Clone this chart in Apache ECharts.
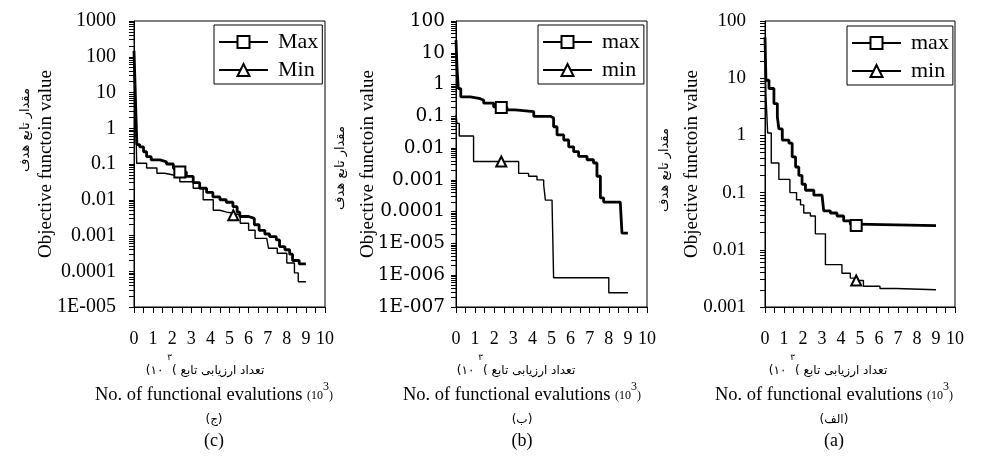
<!DOCTYPE html>
<html>
<head>
<meta charset="utf-8">
<script src="https://cdn.jsdelivr.net/npm/echarts@6/dist/echarts.min.js"></script>
<style>
  html, body { margin: 0; padding: 0; background: #fff; }
  #chart { width: 994px; height: 472px; }
</style>
</head>
<body>
<div id="chart"></div>
<script>
// x axis: number of function evaluations (thousands)
const xTicks = [0, 1, 2, 3, 4, 5, 6, 7, 8, 9, 10];

// y axis decades and their printed labels, one set per panel
const yTicksC = [1e-5, 1e-4, 1e-3, 1e-2, 0.1, 1, 10, 100, 1000];
const yLabelsC = ['1E-005', '0.0001', '0.001', '0.01', '0.1', '1', '10', '100', '1000'];
const yTicksB = [1e-7, 1e-6, 1e-5, 1e-4, 1e-3, 1e-2, 0.1, 1, 10, 100];
const yLabelsB = ['1E-007', '1E-006', '1E-005', '0.0001', '0.001', '0.01', '0.1', '1', '10', '100'];
const yTicksA = [1e-3, 1e-2, 0.1, 1, 10, 100];
const yLabelsA = ['0.001', '0.01', '0.1', '1', '10', '100'];

// panel (c): best-so-far objective value, [evaluations (10^3), value]
const maxC = [[0, 146], [0.05, 20], [0.1, 2.5], [0.15, 0.35], [0.3, 0.3], [0.5, 0.22], [0.66, 0.16],
  [0.9, 0.13], [1.36, 0.115], [1.7, 0.1], [2.06, 0.076], [2.4, 0.06], [2.74, 0.045], [3.1, 0.03],
  [3.44, 0.021], [3.8, 0.016], [4.13, 0.012], [4.5, 0.01], [4.83, 0.0085], [5.18, 0.0064],
  [5.4, 0.0045], [5.54, 0.0034], [6.0, 0.003], [6.3, 0.002], [6.55, 0.0014], [6.85, 0.0011],
  [7.1, 0.00093], [7.45, 0.00075], [7.62, 0.00049], [7.9, 0.0004], [8.15, 0.0003], [8.3, 0.0002],
  [8.65, 0.00016], [9.0, 0.00016]];
const maxCMark = 11;
const minC = [[0, 130], [0.05, 15], [0.1, 1.5], [0.14, 0.105], [0.66, 0.077], [1.2, 0.055], [1.6, 0.05],
  [2.0, 0.044], [2.4, 0.032], [3.1, 0.021], [3.62, 0.01], [4.15, 0.0051], [4.5, 0.0045], [4.85, 0.0042],
  [5.2, 0.0037], [5.56, 0.0022], [6.0, 0.0014], [6.34, 0.00083], [6.95, 0.00075], [7.04, 0.00044],
  [7.5, 0.00032], [8.0, 0.00017], [8.4, 0.00009], [8.6, 0.000051], [9.0, 0.000051]];
const minCMark = 14;

// panel (b)
const maxB = [[0, 25], [0.05, 3.6], [0.12, 0.75], [0.25, 0.41], [0.75, 0.36], [1.27, 0.32], [1.45, 0.26],
  [1.97, 0.2], [2.37, 0.19], [2.67, 0.16], [3.1, 0.14], [4.07, 0.1], [4.94, 0.088], [5.11, 0.047],
  [5.29, 0.026], [5.64, 0.018], [5.9, 0.011], [6.16, 0.0077], [6.42, 0.0055], [6.86, 0.0043],
  [7.2, 0.0034], [7.38, 0.0013], [7.56, 0.00027], [7.73, 0.0002], [8.6, 0.00018], [8.69, 0.000021],
  [9.0, 0.000021]];
const maxBMark = 8;
const minB = [[0, 0.11], [0.05, 0.06], [0.17, 0.024], [0.92, 0.0038], [2.37, 0.0038], [3.28, 0.0016],
  [3.8, 0.0013], [4.24, 0.001], [4.59, 0.0007], [4.68, 0.00023], [5.03, 0.00018], [5.11, 8.3e-7],
  [8.0, 2.8e-7], [9.0, 2.8e-7]];
const minBMark = 4;

// panel (a)
const maxA = [[0, 52], [0.05, 9.2], [0.21, 6.6], [0.47, 3.6], [0.65, 2.1], [0.73, 1.3], [0.91, 0.83],
  [1.26, 0.73], [1.43, 0.42], [1.61, 0.28], [1.78, 0.2], [1.95, 0.14], [2.13, 0.11], [2.57, 0.09],
  [3.0, 0.085], [3.09, 0.048], [3.44, 0.044], [3.79, 0.039], [4.14, 0.032], [4.49, 0.028],
  [4.8, 0.0265], [9.0, 0.026]];
const maxAMark = 20;
const minA = [[0, 40], [0.05, 5], [0.14, 1.1], [0.33, 0.33], [0.73, 0.17], [1.31, 0.1], [1.66, 0.075],
  [1.87, 0.061], [2.04, 0.044], [2.39, 0.039], [2.65, 0.019], [3.18, 0.0055], [4.05, 0.0039],
  [4.49, 0.0032], [4.8, 0.0029], [5.18, 0.0023], [6.05, 0.0021], [6.9, 0.002], [9.0, 0.002]];
const minAMark = 14;

const SERIF = 'Liberation Serif';
const ARABIC = 'DejaVu Sans';

const panels = [
  { grid: { left: 134, top: 21, width: 191, height: 286 }, ticks: yTicksC, labels: yLabelsC,
    labelFont: SERIF, labelSize: 20, labelMargin: 18,
    names: ['Max', 'Min'], max: maxC, maxMark: maxCMark, min: minC, minMark: minCMark,
    legend: { left: 214, top: 25 } },
  { grid: { left: 456, top: 21, width: 191, height: 286 }, ticks: yTicksB, labels: yLabelsB,
    labelFont: 'DejaVu Serif', labelSize: 18.5, labelMargin: 11,
    names: ['max', 'min'], max: maxB, maxMark: maxBMark, min: minB, minMark: minBMark,
    legend: { left: 538, top: 25 } },
  { grid: { left: 765, top: 21, width: 190, height: 286 }, ticks: yTicksA, labels: yLabelsA,
    labelFont: SERIF, labelSize: 19, labelMargin: 19,
    names: ['max', 'min'], max: maxA, maxMark: maxAMark, min: minA, minMark: minAMark,
    legend: { left: 847, top: 26 } }
];

// decade ticks plus log-spaced minor ticks (2..9 within each decade)
function allLogTicks(ticks) {
  const out = ticks.slice();
  for (let i = 0; i < ticks.length - 1; i++) {
    for (let k = 2; k <= 9; k++) out.push(ticks[i] * k);
  }
  return out.sort((a, b) => a - b);
}

function labelFor(ticks, labels) {
  return function (v) {
    const lv = Math.log10(v);
    const i = ticks.findIndex(t => Math.abs(Math.log10(t) - lv) < 1e-6);
    return i >= 0 ? labels[i] : '';
  };
}

function seriesData(pts, markIdx) {
  return pts.map((p, i) => (i === markIdx ? { value: p } : { value: p, symbol: 'none' }));
}

const grids = [], xAxes = [], yAxes = [], series = [], legends = [];

panels.forEach((p, gi) => {
  grids.push(Object.assign({ show: true, borderColor: '#000', borderWidth: 1, backgroundColor: 'transparent' }, p.grid));

  xAxes.push({
    type: 'value', gridIndex: gi, min: 0, max: 10, interval: 0.5,
    axisLine: { show: true, lineStyle: { color: '#000', width: 1 } },
    axisTick: { show: true, length: 6, lineStyle: { color: '#000', width: 1 } },
    axisLabel: { customValues: xTicks, margin: 23, color: '#000', fontFamily: SERIF, fontSize: 18,
      formatter: v => String(v) },
    splitLine: { show: false }
  });

  const lo = p.ticks[0], hi = p.ticks[p.ticks.length - 1];
  yAxes.push({
    type: 'log', logBase: 10, gridIndex: gi, min: lo, max: hi, position: 'left',
    axisLine: { show: true, lineStyle: { color: '#000', width: 1 } },
    axisTick: { show: true, customValues: allLogTicks(p.ticks), length: 5, lineStyle: { color: '#000', width: 1 } },
    axisLabel: { customValues: p.ticks, margin: p.labelMargin, color: '#000',
      fontFamily: p.labelFont, fontSize: p.labelSize, formatter: labelFor(p.ticks, p.labels) },
    splitLine: { show: false }, minorSplitLine: { show: false }
  });

  series.push({
    type: 'line', name: p.names[1], xAxisIndex: gi, yAxisIndex: gi, step: 'end',
    symbol: 'emptyTriangle', symbolSize: 10, showSymbol: true, showAllSymbol: true,
    data: seriesData(p.min, p.minMark),
    lineStyle: { color: '#000', width: 1.4 },
    itemStyle: { color: '#000', borderColor: '#000', borderWidth: 1.6 },
    z: 3, animation: false, silent: true
  });
  series.push({
    type: 'line', name: p.names[0], xAxisIndex: gi, yAxisIndex: gi, step: 'end',
    symbol: 'emptyRect', symbolSize: 11, showSymbol: true, showAllSymbol: true,
    data: seriesData(p.max, p.maxMark),
    lineStyle: { color: '#000', width: 2.8 },
    itemStyle: { color: '#000', borderColor: '#000', borderWidth: 1.8 },
    z: 4, animation: false, silent: true
  });

  legends.push({
    left: p.legend.left, top: p.legend.top, orient: 'vertical',
    data: p.names.slice(),
    backgroundColor: '#fff', borderColor: '#000', borderWidth: 1,
    padding: [6, 4, 3, 4], itemGap: 6, itemWidth: 49, itemHeight: 15,
    selectedMode: false,
    textStyle: { color: '#000', fontFamily: SERIF, fontSize: 22, padding: [0, 0, 0, 5] }
  });
});

// axis titles and panel captions
const yTitles = [
  { en: 46, fa: 26, faY: 130 },
  { en: 368, fa: 341, faY: 168 },
  { en: 692, fa: 665, faY: 170 }
];
const captionCenters = [214, 522, 834];
const persianCenters = [205, 516, 828];
const captionFa = ['(ج)', '(ب)', '(الف)'];
const captionEn = ['(c)', '(b)', '(a)'];

const graphics = [];
yTitles.forEach(t => {
  graphics.push({
    type: 'text', x: t.en, y: 164, rotation: Math.PI / 2, silent: true,
    style: { text: 'Objective functoin value', fill: '#000', font: '19px "Liberation Serif"',
      textAlign: 'center', textVerticalAlign: 'middle' }
  });
  graphics.push({
    type: 'text', x: t.fa, y: t.faY, rotation: Math.PI / 2, silent: true,
    style: { text: 'مقدار تابع هدف', fill: '#000', font: '13px "DejaVu Sans"',
      textAlign: 'center', textVerticalAlign: 'middle' }
  });
});
captionCenters.forEach((cx, i) => {
  graphics.push({
    type: 'text', x: persianCenters[i], y: 365, silent: true,
    style: {
      text: '{p|(۱۰ }{sup|۳}{p|( تعداد ارزیابی تابع}',
      textAlign: 'center', textVerticalAlign: 'middle', fill: '#000',
      rich: {
        p: { fontFamily: ARABIC, fontSize: 12, lineHeight: 24, verticalAlign: 'bottom', fill: '#000' },
        sup: { fontFamily: ARABIC, fontSize: 9, lineHeight: 24, verticalAlign: 'top', fill: '#000' }
      }
    }
  });
  graphics.push({
    type: 'text', x: cx, y: 393, silent: true,
    style: {
      text: '{e|No. of functional evalutions }{s|(10}{sup|3}{s|)}',
      textAlign: 'center', textVerticalAlign: 'middle', fill: '#000',
      rich: {
        e: { fontFamily: SERIF, fontSize: 18.5, lineHeight: 24, verticalAlign: 'bottom', fill: '#000' },
        s: { fontFamily: SERIF, fontSize: 12, lineHeight: 24, verticalAlign: 'bottom', fill: '#000', padding: [0, 0, 3, 0] },
        sup: { fontFamily: SERIF, fontSize: 12, lineHeight: 24, verticalAlign: 'top', fill: '#000' }
      }
    }
  });
  graphics.push({
    type: 'text', x: cx, y: 420, silent: true,
    style: { text: captionFa[i], fill: '#000', font: '12px "DejaVu Sans"', textAlign: 'center', textVerticalAlign: 'middle' }
  });
  graphics.push({
    type: 'text', x: cx, y: 441, silent: true,
    style: { text: captionEn[i], fill: '#000', font: '18px "Liberation Serif"', textAlign: 'center', textVerticalAlign: 'middle' }
  });
});

const chart = echarts.init(document.getElementById('chart'), null, { renderer: 'canvas' });
chart.setOption({
  backgroundColor: '#fff',
  animation: false,
  grid: grids,
  xAxis: xAxes,
  yAxis: yAxes,
  legend: legends,
  series: series,
  graphic: graphics
});
</script>
</body>
</html>
